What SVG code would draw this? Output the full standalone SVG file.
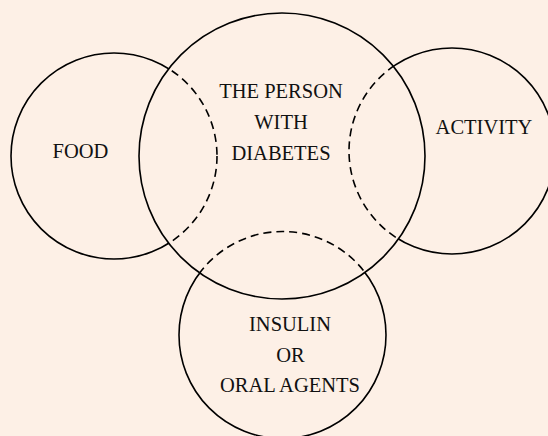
<svg xmlns="http://www.w3.org/2000/svg" width="548" height="436" viewBox="0 0 548 436">
  <style>
    .solid { fill: none; stroke: #000; stroke-width: 1.6; }
    .dash { fill: none; stroke: #000; stroke-width: 1.6; stroke-dasharray: 8 5; }
    .lbl { font-family: "Liberation Serif", "Times New Roman", serif; font-size: 20.5px; fill: #111; text-anchor: middle; }
  </style>
  <defs>
    <clipPath id="outsideMain">
      <path clip-rule="evenodd" d="M-10,-10H560V450H-10Z M139,156 A143,143 0 1,0 425,156 A143,143 0 1,0 139,156 Z"/>
    </clipPath>
    <clipPath id="insideMain">
      <circle cx="282" cy="156" r="143"/>
    </clipPath>
  </defs>
  <rect x="0" y="0" width="548" height="436" fill="#fdf0e6"/>

  <g id="food">
    <circle class="solid" cx="114" cy="156" r="103" clip-path="url(#outsideMain)"/>
    <circle class="dash" cx="114" cy="156" r="103" clip-path="url(#insideMain)"/>
    <text class="lbl" x="80.5" y="158">FOOD</text>
  </g>

  <g id="activity">
    <circle class="solid" cx="452" cy="151" r="103" clip-path="url(#outsideMain)"/>
    <circle class="dash" cx="452" cy="151" r="103" clip-path="url(#insideMain)"/>
    <text class="lbl" x="484" y="134">ACTIVITY</text>
  </g>

  <g id="insulin">
    <circle class="solid" cx="282.5" cy="335" r="103.5" clip-path="url(#outsideMain)"/>
    <circle class="dash" cx="282.5" cy="335" r="103.5" clip-path="url(#insideMain)"/>
    <text class="lbl" x="290" y="331">INSULIN</text>
    <text class="lbl" x="290.5" y="362">OR</text>
    <text class="lbl" x="290" y="392">ORAL AGENTS</text>
  </g>

  <g id="person">
    <circle class="solid" cx="282" cy="156" r="143"/>
    <text class="lbl" x="281" y="98">THE PERSON</text>
    <text class="lbl" x="281" y="129">WITH</text>
    <text class="lbl" x="281" y="160">DIABETES</text>
  </g>
</svg>
